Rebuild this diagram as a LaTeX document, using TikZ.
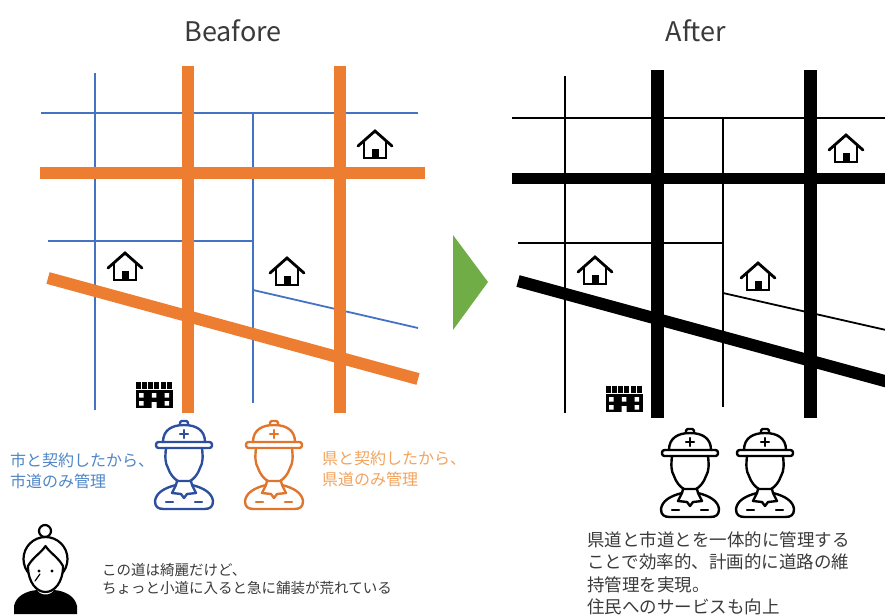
\documentclass[tikz,border=0pt]{standalone}
\usepackage{fontspec}
\setmainfont{Noto Sans CJK JP}
\definecolor{roadorange}{HTML}{ED7D31}
\definecolor{lineblue}{HTML}{4472C4}
\definecolor{workerblue}{HTML}{2E4F9E}
\definecolor{workerorange}{HTML}{E0752D}
\definecolor{textblue}{HTML}{4F86C6}
\definecolor{textorange}{HTML}{F2A35E}
\definecolor{arrowgreen}{HTML}{70AD47}
\definecolor{bodytext}{HTML}{3A3A3A}
\tikzset{
  mainroad/.style={roadorange, line width=12pt},
  sideroad/.style={lineblue, line width=1.8pt},
  bigroad/.style={black, line width=#1},
  bigroad/.default=13pt,
  smallroad/.style={black, line width=1.8pt},
  caption/.style={inner sep=0pt, align=left, anchor=north west},
  % small house symbol, origin at its centre
  hut/.pic={
    \draw[line width=2.8pt, line cap=round, line join=miter] (-17,1) -- (0,-14) -- (17,1);
    \draw[line width=2.4pt] (-11,-3) -- (-11,13) -- (11,13) -- (11,-3);
    \fill (-3.5,4) rectangle (3.5,13);
  },
  % office building symbol, origin at its centre
  bldg/.pic={
    \foreach \i in {0,...,5} \fill (-18.5+\i*6.3,-13) rectangle ++(5,7);
    \fill (-18.5,-5) rectangle (18.5,13);
    \fill[white] (-15,-2) rectangle ++(4.5,4.5) (-2.25,-2) rectangle ++(4.5,4.5) (10.5,-2) rectangle ++(4.5,4.5)
                 (-15,6) rectangle ++(4.5,4.5) (10.5,6) rectangle ++(4.5,4.5) (-2.5,7) rectangle (2.5,13);
  },
  % road worker with helmet, origin at top centre
  worker/.pic={
    \begin{scope}[line width=2.4pt, line join=round, line cap=round]
      \draw[rounded corners=1.5pt] (-4,4) -- (-4,0) -- (4,0) -- (4,4);
      \draw (-21,21) .. controls (-21,9) and (-12,4) .. (0,4) .. controls (12,4) and (21,9) .. (21,21);
      \draw[rounded corners=2.5pt] (-28,21) rectangle (28,27);
      \draw (0,9) -- (0,17) (-4,13) -- (4,13);
      \draw (-18,27) .. controls (-19,36) and (-19,42) .. (-16,47) .. controls (-14,53) and (-10,58) .. (-6,60) -- (6,60)
            .. controls (10,58) and (14,53) .. (16,47) .. controls (19,42) and (19,36) .. (18,27);
      \draw (-7,60) -- (-8,64) .. controls (-20,67) and (-28,72) .. (-29,80) .. controls (-29,86) and (-26,88) .. (-20,88)
            -- (20,88) .. controls (26,88) and (29,86) .. (29,80) .. controls (28,72) and (20,67) .. (8,64) -- (7,60);
      \draw (-8,64) -- (-12,72) -- (-3,73) -- (0,77) -- (3,73) -- (12,72) -- (8,64);
      \draw (-18,81) -- (-11,81) (11,81) -- (18,81);
    \end{scope}
  }
}
\begin{document}
\begin{tikzpicture}[x=1pt, y=-1pt]
\useasboundingbox (0,0) rectangle (885,614);

% ---------- titles ----------
\node[font=\fontsize{27}{30}\selectfont, text=bodytext] (tbefore) at (233,31) {Beafore};
\node[font=\fontsize{27}{30}\selectfont, text=bodytext] (tafter) at (696,31) {After};

% ---------- current road network ----------
\draw[sideroad] (95,73) -- (95,410);
\draw[sideroad] (41,113) -- (418,113);
\draw[sideroad] (253,113) -- (253,403);
\draw[sideroad] (48,241) -- (253,241);
\draw[sideroad] (253,290) -- (418,328);
\draw[mainroad] (187.5,66) -- (187.5,413);
\draw[mainroad] (339.5,66) -- (339.5,413);
\draw[mainroad] (40,173) -- (425,173);
\draw[mainroad] (48,278) -- (418,379);
\pic at (375,145) {hut};
\pic at (125,267) {hut};
\pic at (287,272) {hut};
\pic at (154,395) {bldg};

% ---------- arrow ----------
\fill[arrowgreen] (453,235) -- (488,282) -- (453,330) -- cycle;

% ---------- integrated road network ----------
\draw[smallroad] (565,76) -- (565,413);
\draw[smallroad] (512,118) -- (885,118);
\draw[smallroad] (723,118) -- (723,407);
\draw[smallroad] (518,243) -- (723,243);
\draw[smallroad] (723,293) -- (886,330);
\draw[bigroad] (657.5,70) -- (657.5,418);
\draw[bigroad] (810,70) -- (810,418);
\draw[bigroad=11pt] (512,178) -- (886,178);
\draw[bigroad=12pt] (518,281) -- (892,383);
\pic at (846,149) {hut};
\pic at (595,271) {hut};
\pic at (758,277) {hut};
\pic at (624,399) {bldg};

% ---------- contractors ----------
\pic[workerblue] at (184,421) {worker};
\pic[workerorange] at (274,421) {worker};
\node[caption, text=textblue, font=\fontsize{16}{21}\selectfont] (citynote) at (10,453) {市と契約したから、\\市道のみ管理};
\node[caption, text=textorange, font=\fontsize{16}{21}\selectfont] (prefnote) at (322,451) {県と契約したから、\\県道のみ管理};

\pic[black] at (690,429) {worker};
\pic[black] at (765,429) {worker};
\node[caption, text=bodytext, font=\fontsize{17.5}{22.5}\selectfont] (result) at (587,531)
  {県道と市道とを一体的に管理する\\ことで効率的、計画的に道路の維\\持管理を実現。\\住民へのサービスも向上};

% ---------- resident ----------
\begin{scope}[line width=2.2pt, line join=round, line cap=round]
  \draw (45,531) circle (6);
  \draw (45.5,559) circle (22);
  \fill (14,614) -- (14,606) .. controls (16,596) and (26,591) .. (37,590) .. controls (40,596) and (51,596) .. (54,590)
        .. controls (65,591) and (75,596) .. (77,606) -- (77,614) -- cycle;
  \filldraw[fill=white] (28,566) .. controls (33,557) and (41,553) .. (45.5,546) .. controls (50,553) and (58,557) .. (63,566)
        .. controls (63,583) and (54,592) .. (45.5,592) .. controls (37,592) and (28,583) .. (28,566) -- cycle;
  \fill (39,571) circle (1.6) (52,571) circle (1.6);
  \draw[line width=1.2pt] (35,581) -- (40,574);
\end{scope}
\node[caption, text=bodytext, font=\fontsize{14.5}{18}\selectfont] (remark) at (102,563)
  {この道は綺麗だけど、\\ちょっと小道に入ると急に舗装が荒れている};
\end{tikzpicture}
\end{document}
